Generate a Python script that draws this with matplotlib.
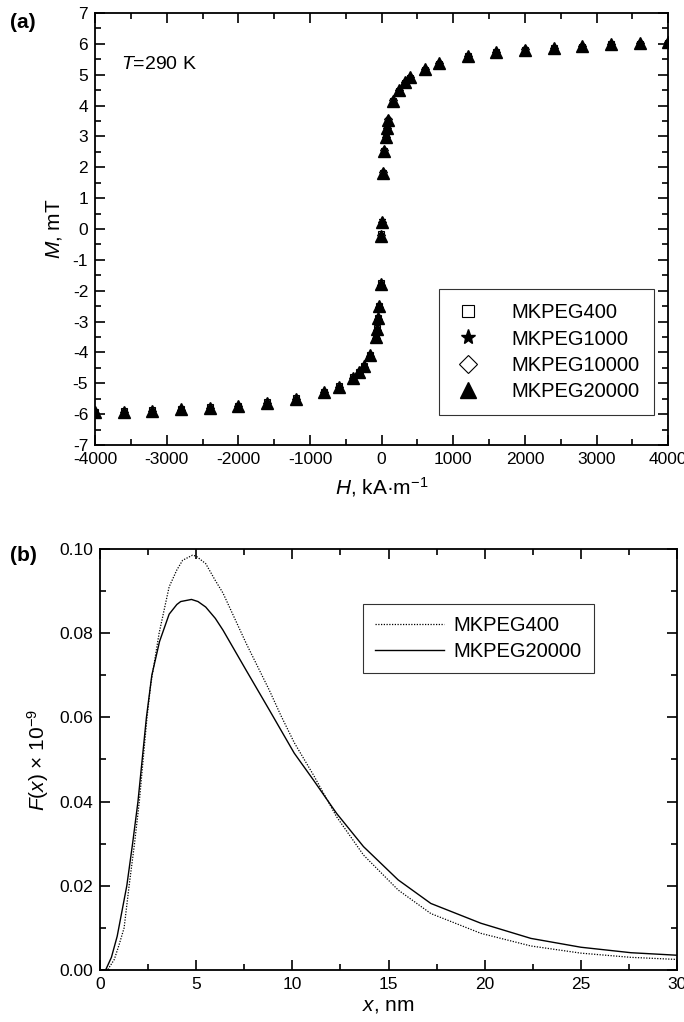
import matplotlib
matplotlib.use("Agg")
import matplotlib.pyplot as plt
from matplotlib.ticker import MultipleLocator, FormatStrFormatter

plt.rcParams['font.family'] = ['Liberation Sans', 'DejaVu Sans']
plt.rcParams['mathtext.fontset'] = 'custom'
plt.rcParams['mathtext.rm'] = 'Liberation Sans'
plt.rcParams['mathtext.it'] = 'Liberation Sans:italic'
plt.rcParams['axes.unicode_minus'] = False

# (a) magnetization curves, H in kA/m, M in mT
H = [-4000, -3600, -3200, -2800, -2400, -2000, -1600, -1200, -800, -600,
     -400, -320, -240, -160, -86, -72, -54, -31, -16, -3,
     3, 16, 31, 54, 72, 86, 160, 240, 320, 400,
     600, 800, 1200, 1600, 2000, 2400, 2800, 3200, 3600, 4000]
M_400 = [-5.93, -5.91, -5.88, -5.84, -5.78, -5.73, -5.62, -5.49, -5.27, -5.10,
         -4.81, -4.64, -4.44, -4.08, -3.48, -3.22, -2.88, -2.48, -1.76, -0.15,
         0.15, 1.80, 2.52, 2.95, 3.24, 3.51, 4.14, 4.48, 4.73, 4.90,
         5.16, 5.36, 5.59, 5.73, 5.80, 5.86, 5.91, 5.99, 6.01, 6.04]
M_1000 = [-5.94, -5.92, -5.89, -5.85, -5.79, -5.74, -5.63, -5.50, -5.28, -5.11,
          -4.82, -4.65, -4.45, -4.10, -3.50, -3.25, -2.90, -2.50, -1.78, -0.28,
          0.28, 1.83, 2.54, 2.97, 3.26, 3.53, 4.16, 4.50, 4.75, 4.91,
          5.17, 5.37, 5.60, 5.74, 5.81, 5.87, 5.92, 6.00, 6.02, 6.05]
M_10000 = [-5.95, -5.93, -5.90, -5.86, -5.80, -5.75, -5.64, -5.51, -5.29, -5.12,
           -4.84, -4.67, -4.47, -4.12, -3.52, -3.27, -2.92, -2.52, -1.80, -0.20,
           0.22, 1.85, 2.56, 2.99, 3.28, 3.55, 4.18, 4.52, 4.77, 4.93,
           5.18, 5.38, 5.61, 5.75, 5.82, 5.88, 5.93, 6.01, 6.03, 6.06]
M_20000 = [-5.94, -5.92, -5.89, -5.85, -5.79, -5.74, -5.63, -5.50, -5.28, -5.11,
           -4.82, -4.65, -4.45, -4.10, -3.50, -3.25, -2.90, -2.50, -1.78, -0.22,
           0.24, 1.83, 2.54, 2.97, 3.26, 3.53, 4.16, 4.50, 4.75, 4.91,
           5.17, 5.37, 5.60, 5.74, 5.81, 5.87, 5.92, 6.00, 6.02, 6.05]

# (b) size distributions, x in nm
x_400 = [0.0, 0.4, 0.75, 1.0, 1.26, 1.52, 1.8, 2.05, 2.25, 2.45, 2.65, 3.08,
         3.6, 4.0, 4.3, 4.81, 5.0, 5.5, 6.0, 6.4, 7.6, 8.8, 9.4, 10.1, 11.1,
         12.3, 13.7, 15.5, 17.2, 19.8, 22.4, 25.0, 27.6, 30.0]
F_400 = [0.0, 0.0, 0.0025, 0.006, 0.010, 0.020, 0.030, 0.040, 0.050, 0.060,
         0.068, 0.080, 0.091, 0.095, 0.0973, 0.0985, 0.0983, 0.0965, 0.0925,
         0.0895, 0.0776, 0.0665, 0.0605, 0.054, 0.0463, 0.0364, 0.0273,
         0.019, 0.0134, 0.0087, 0.0057, 0.0040, 0.0030, 0.0025]
x_20000 = [0.0, 0.3, 0.6, 0.9, 1.15, 1.4, 1.7, 1.98, 2.2, 2.42, 2.7, 3.1,
           3.6, 4.0, 4.2, 4.76, 5.1, 5.5, 6.0, 6.4, 7.6, 8.8, 10.1, 11.1,
           12.3, 13.7, 15.5, 17.2, 19.8, 22.4, 25.0, 27.6, 30.0]
F_20000 = [0.0, 0.0, 0.003, 0.008, 0.014, 0.020, 0.030, 0.040, 0.050, 0.060,
           0.070, 0.078, 0.0845, 0.0868, 0.0875, 0.088, 0.0875, 0.0862, 0.0835,
           0.0807, 0.0712, 0.0618, 0.0515, 0.0451, 0.0372, 0.0293, 0.0214,
           0.0158, 0.0111, 0.0075, 0.0054, 0.0041, 0.0035]

fig = plt.figure(figsize=(6.84, 10.22), dpi=100)
ax1 = fig.add_axes([0.139, 0.5646, 0.838, 0.4227])
ax2 = fig.add_axes([0.146, 0.0509, 0.844, 0.412])

# hidden series drawn small so the triangles cover them, like in the original
ax1.plot(H, M_400, ls='none', marker='s', ms=4, mfc='white', mec='black', mew=0.8, label='MKPEG400')
ax1.plot(H, M_1000, ls='none', marker='*', ms=5, color='black', label='MKPEG1000')
ax1.plot(H, M_10000, ls='none', marker='D', ms=4, mfc='white', mec='black', mew=0.8, label='MKPEG10000')
ax1.plot(H, M_20000, ls='none', marker='^', ms=9, color='black', label='MKPEG20000')

ax1.set_xlim(-4000, 4000)
ax1.set_ylim(-7, 7)
ax1.xaxis.set_major_locator(MultipleLocator(1000))
ax1.xaxis.set_minor_locator(MultipleLocator(500))
ax1.yaxis.set_major_locator(MultipleLocator(1))
ax1.yaxis.set_minor_locator(MultipleLocator(0.5))
ax1.set_xlabel(r'$H$, kA·m$^{\mathregular{-1}}$', fontsize=15, labelpad=6)
ax1.set_ylabel(r'$M$, mT', fontsize=15, labelpad=6)
ax1.text(0.045, 0.88, r'$T$=290 K', transform=ax1.transAxes, fontsize=14, va='center')
leg1 = ax1.legend(loc='lower right', bbox_to_anchor=(0.975, 0.07), fontsize=14.5,
                  frameon=True, fancybox=False, edgecolor='black', handlelength=1.5,
                  handletextpad=1.4, labelspacing=0.35, borderpad=0.7, borderaxespad=0)
leg1.get_frame().set_linewidth(0.8)
for h, size in zip(leg1.legend_handles, [8, 11, 9, 11]):
    h.set_markersize(size)

ax2.plot(x_400, F_400, ls=(0, (1, 1.2)), lw=0.9, color='black', label='MKPEG400')
ax2.plot(x_20000, F_20000, ls='-', lw=1.0, color='black', label='MKPEG20000')
ax2.set_xlim(0, 30)
ax2.set_ylim(0, 0.10)
ax2.xaxis.set_major_locator(MultipleLocator(5))
ax2.xaxis.set_minor_locator(MultipleLocator(2.5))
ax2.yaxis.set_major_locator(MultipleLocator(0.02))
ax2.yaxis.set_minor_locator(MultipleLocator(0.01))
ax2.yaxis.set_major_formatter(FormatStrFormatter('%.2f'))
ax2.set_xlabel(r'$x$, nm', fontsize=15, labelpad=3)
ax2.set_ylabel(r'$F$($x$) × 10$^{\mathregular{−9}}$', fontsize=15, labelpad=6)
leg2 = ax2.legend(loc='upper left', bbox_to_anchor=(0.456, 0.87), fontsize=14.5,
                  frameon=True, fancybox=False, edgecolor='black', handlelength=3.4,
                  handletextpad=0.5, labelspacing=0.35, borderpad=0.6, borderaxespad=0)
leg2.get_frame().set_linewidth(0.8)

for ax in (ax1, ax2):
    ax.tick_params(which='both', direction='in', top=True, right=True, labelsize=12.5, width=1.2, pad=5)
    ax.tick_params(which='major', length=7)
    ax.tick_params(which='minor', length=4)
    for sp in ax.spines.values():
        sp.set_linewidth(1.3)

fig.text(0.015, 0.978, '(a)', fontsize=15, fontweight='bold', va='center')
fig.text(0.015, 0.456, '(b)', fontsize=15, fontweight='bold', va='center')

fig.savefig('out.png', dpi=100)
